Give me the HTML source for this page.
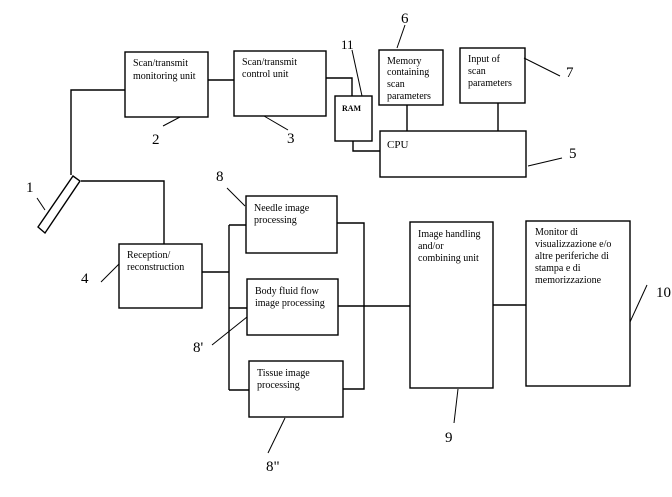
<!DOCTYPE html>
<html><head><style>
html,body{margin:0;padding:0;background:#fff;}
svg text{font-family:"Liberation Serif",serif;fill:#000;}
.t{font-size:10px;}
.n{font-size:15px;}
</style></head><body>
<svg width="672" height="492" viewBox="0 0 672 492" xmlns="http://www.w3.org/2000/svg">
<g fill="none" stroke="#000" stroke-width="1.4">
<rect x="125" y="52" width="83" height="65"/>
<rect x="234" y="51" width="92" height="65"/>
<rect x="335" y="96" width="37" height="45"/>
<rect x="380" y="131" width="146" height="46"/>
<rect x="379" y="50" width="64" height="55"/>
<rect x="460" y="48" width="65" height="55"/>
<rect x="119" y="244" width="83" height="64"/>
<rect x="246" y="196" width="91" height="57"/>
<rect x="247" y="279" width="91" height="56"/>
<rect x="249" y="361" width="94" height="56"/>
<rect x="410" y="222" width="83" height="166"/>
<rect x="526" y="221" width="104" height="165"/>
<polygon points="38,227 45,233 80,181 73,176"/>
<polyline points="125,90 71,90 71,175"/>
<line x1="208" y1="80" x2="234" y2="80"/>
<polyline points="326,78 352,78 352,96"/>
<polyline points="353,141 353,151 380,151"/>
<line x1="407" y1="105" x2="407" y2="131"/>
<line x1="498" y1="103" x2="498" y2="131"/>
<polyline points="81,181 164,181 164,244"/>
<line x1="202" y1="272" x2="229" y2="272"/>
<line x1="229" y1="225" x2="229" y2="390"/>
<line x1="229" y1="225" x2="246" y2="225"/>
<line x1="229" y1="308" x2="247" y2="308"/>
<line x1="229" y1="390" x2="249" y2="390"/>
<polyline points="337,223 364,223 364,389 343,389"/>
<line x1="338" y1="306" x2="410" y2="306"/>
<line x1="493" y1="305" x2="526" y2="305"/>
</g>
<g fill="none" stroke="#000" stroke-width="1">
<line x1="397" y1="48" x2="405" y2="25"/>
<line x1="352" y1="50" x2="362" y2="96"/>
<line x1="524" y1="58" x2="560" y2="76"/>
<line x1="528" y1="166" x2="562" y2="158"/>
<line x1="163" y1="126" x2="180" y2="117"/>
<line x1="264" y1="116" x2="288" y2="130"/>
<line x1="37" y1="198" x2="45" y2="210"/>
<line x1="101" y1="282" x2="119" y2="264"/>
<line x1="227" y1="188" x2="245" y2="206"/>
<line x1="212" y1="345" x2="247" y2="317"/>
<line x1="268" y1="453" x2="285" y2="418"/>
<line x1="454" y1="423" x2="458" y2="389"/>
<line x1="630" y1="322" x2="647" y2="285"/>
</g>
<g class="t">
<text x="133" y="66">Scan/transmit</text>
<text x="133" y="79">monitoring unit</text>
<text x="242" y="65">Scan/transmit</text>
<text x="242" y="77">control unit</text>
<text x="342" y="111" style="font-size:8px;font-weight:bold">RAM</text>
<text x="387" y="148" style="font-size:11px">CPU</text>
<text x="387" y="64">Memory</text>
<text x="387" y="75">containing</text>
<text x="387" y="87">scan</text>
<text x="387" y="99">parameters</text>
<text x="468" y="62">Input of</text>
<text x="468" y="74">scan</text>
<text x="468" y="86">parameters</text>
<text x="127" y="258">Reception/</text>
<text x="127" y="270">reconstruction</text>
<text x="254" y="211">Needle image</text>
<text x="254" y="223">processing</text>
<text x="255" y="294">Body fluid flow</text>
<text x="255" y="306">image processing</text>
<text x="257" y="376">Tissue image</text>
<text x="257" y="388">processing</text>
<text x="418" y="237">Image handling</text>
<text x="418" y="249">and/or</text>
<text x="418" y="261">combining unit</text>
<text x="535" y="235">Monitor di</text>
<text x="535" y="247">visualizzazione e/o</text>
<text x="535" y="259">altre periferiche di</text>
<text x="535" y="271">stampa e di</text>
<text x="535" y="283">memorizzazione</text>
</g>
<g class="n">
<text x="401" y="23">6</text>
<text x="341" y="49" style="font-size:13px">11</text>
<text x="566" y="77">7</text>
<text x="569" y="158">5</text>
<text x="152" y="144">2</text>
<text x="287" y="143">3</text>
<text x="26" y="192">1</text>
<text x="81" y="283">4</text>
<text x="216" y="181">8</text>
<text x="193" y="352">8'</text>
<text x="266" y="471">8"</text>
<text x="445" y="442">9</text>
<text x="656" y="297">10</text>
</g>
</svg>
</body></html>
